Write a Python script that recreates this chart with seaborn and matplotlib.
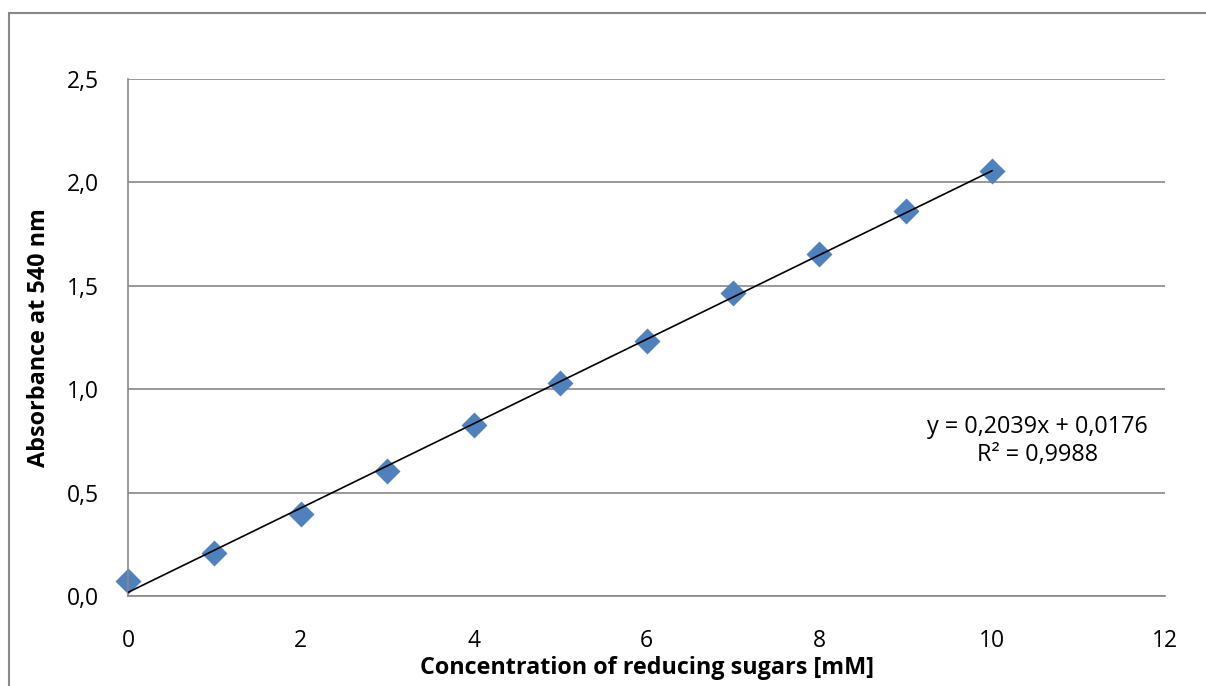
import matplotlib
matplotlib.use("Agg")
import matplotlib.pyplot as plt
import seaborn as sns
import pandas as pd
import numpy as np
from matplotlib.lines import Line2D
from matplotlib.ticker import FuncFormatter

concentration = [0, 1, 2, 3, 4, 5, 6, 7, 8, 9, 10]
absorbance = [0.073, 0.208, 0.398, 0.603, 0.826, 1.031, 1.234, 1.464, 1.655, 1.864, 2.056]
slope = 0.2039
intercept = 0.0176
equation_text = "y = 0,2039x + 0,0176\nR² = 0,9988"
x_label = "Concentration of reducing sugars [mM]"
y_label = "Absorbance at 540 nm"
x_ticks = [0, 2, 4, 6, 8, 10, 12]
y_ticks = [0.0, 0.5, 1.0, 1.5, 2.0, 2.5]

sns.set_theme(style="white")
plt.rcParams['font.family'] = ['Open Sans', 'DejaVu Sans']
plt.rcParams['text.color'] = 'black'
plt.rcParams['axes.labelcolor'] = 'black'

W, H = 1206, 686
fig = plt.figure(figsize=(W / 100, H / 100), dpi=100)
ax = fig.add_axes([128 / W, (H - 596) / H, (1165 - 128) / W, (596 - 79) / H])

grid_c = "#888888"
df = pd.DataFrame({"x": concentration, "y": absorbance})
fit_x = [min(concentration), max(concentration)]
fit = pd.DataFrame({"x": fit_x, "y": [slope * v + intercept for v in fit_x]})

sns.lineplot(data=fit, x="x", y="y", ax=ax, color="black", linewidth=1.2, zorder=3)
sns.scatterplot(data=df, x="x", y="y", ax=ax, marker="D", s=175, color="#4F81BD",
                edgecolor="#4F81BD", linewidth=0, zorder=2, clip_on=False)

ax.set_xlim(0, 12)
ax.set_ylim(0, 2.5)
ax.set_xticks(x_ticks)
ax.set_yticks(y_ticks)
ax.yaxis.set_major_formatter(FuncFormatter(lambda v, p: f"{v:.1f}".replace(".", ",")))
ax.grid(axis="y", color=grid_c, linewidth=1.2)
ax.set_axisbelow(True)
for s in ["top", "right"]:
    ax.spines[s].set_visible(False)
for s in ["left", "bottom"]:
    ax.spines[s].set_color(grid_c)
    ax.spines[s].set_linewidth(1.2)
ax.tick_params(axis="both", direction="out", length=6, width=1.2, color=grid_c,
               labelsize=16.5, labelcolor="black")
ax.tick_params(axis="x", pad=18)
ax.tick_params(axis="y", pad=15)
ax.set_xlabel(x_label, fontsize=16.8, fontweight="bold", labelpad=2, color="black")
ax.set_ylabel(y_label, fontsize=16.8, fontweight="bold", labelpad=11, color="black")

ax.text(10.52, 0.75, equation_text, ha="center", va="center", fontsize=16.8,
        linespacing=1.2, color="black")

# outer chart border (partly cropped)
fig.add_artist(Line2D([9 / W, 9 / W], [0, 1 - 13 / H], transform=fig.transFigure,
                      color=grid_c, linewidth=1.5))
fig.add_artist(Line2D([9 / W, 1], [1 - 13 / H, 1 - 13 / H], transform=fig.transFigure,
                      color=grid_c, linewidth=1.5))

fig.savefig("out.png", dpi=100)
